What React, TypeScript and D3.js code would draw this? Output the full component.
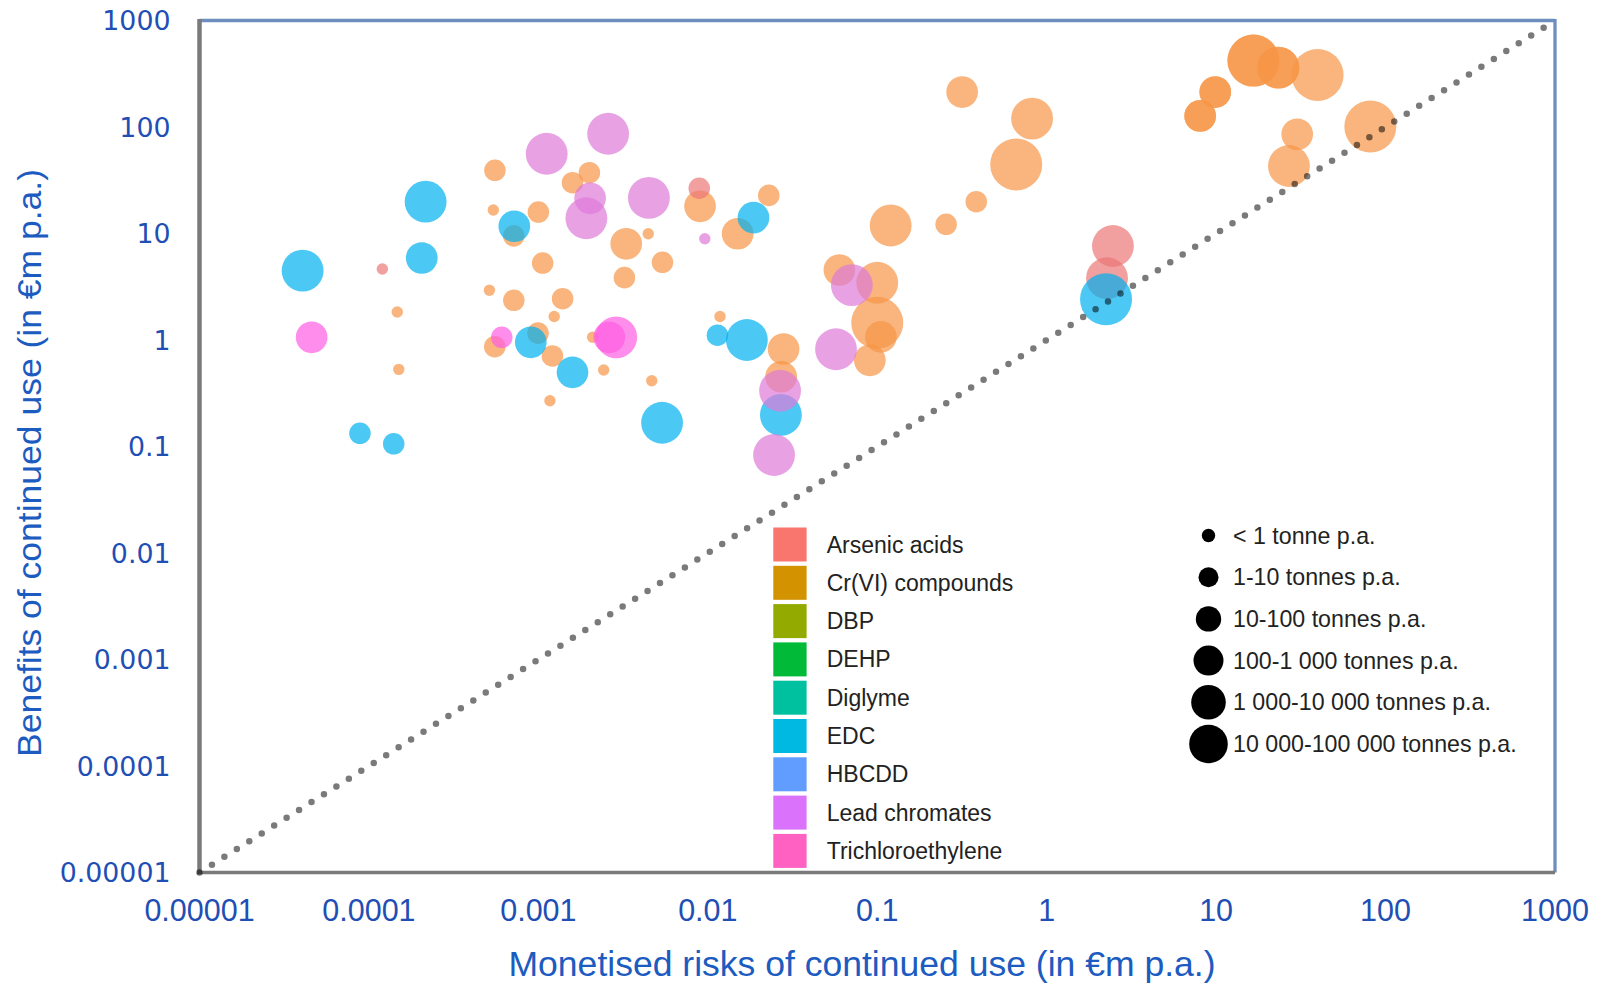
import * as d3 from "d3";

// [risk €m p.a., benefit €m p.a., tonnage band index]
const crVICompounds = [
  [1.47e-4, 1.83, 0], [1.5e-4, 0.53, 0], [5.54e-4, 39.2, 1], [5.42e-4, 16.6, 0],
  [7.16e-4, 9.5, 1], [1.0e-3, 15.9, 1], [2.0e-3, 37.2, 1], [1.59e-3, 30.0, 1],
  [3.3e-3, 8.0, 2], [4.45e-3, 9.95, 0], [5.4e-3, 5.37, 1], [3.22e-3, 3.85, 1],
  [1.06e-3, 5.28, 1], [5.14e-4, 2.93, 0], [7.16e-4, 2.36, 1], [1.39e-3, 2.44, 1],
  [1.24e-3, 1.66, 0], [5.53e-4, 0.865, 1], [9.95e-4, 1.16, 1], [1.21e-3, 0.708, 1],
  [2.09e-3, 1.06, 0], [2.43e-3, 0.523, 0], [4.67e-3, 0.415, 0], [1.17e-3, 0.269, 0],
  [9.0e-3, 18.0, 2], [0.0229, 22.8, 1], [0.015, 9.95, 2], [0.0118, 1.66, 0],
  [0.028, 0.823, 2], [0.0271, 0.452, 2], [0.0598, 4.54, 2], [0.1, 3.45, 3],
  [0.1, 1.45, 4], [0.105, 1.07, 2], [0.0904, 0.645, 2], [0.12, 11.9, 3],
  [0.255, 12.2, 1], [0.384, 19.9, 1], [0.317, 213, 2], [0.82, 120, 3],
  [0.661, 44.5, 4], [16.6, 420, 4], [16.6, 420, 4], [23.3, 361, 3], [23.3, 361, 3],
  [9.88, 213, 2], [9.88, 213, 2], [8.05, 127, 2], [8.05, 127, 2],
  [39.7, 308, 4], [30.1, 85.4, 2], [26.9, 43.0, 3], [81.3, 101, 4],
];

const arsenicAcids = [
  [1.2e-4, 4.64, 0], [8.9e-3, 26.6, 1], [2.46, 7.63, 3], [2.27, 3.8, 3],
];

const edc = [
  [4.06e-5, 4.48, 3], [2.16e-4, 19.9, 3], [2.05e-4, 5.89, 2], [8.85e-5, 0.133, 1],
  [1.4e-4, 0.106, 1], [7.21e-4, 11.7, 2], [9.02e-4, 0.951, 2], [1.59e-3, 0.497, 2],
  [5.37e-3, 0.167, 3], [0.0186, 14.1, 2], [0.0114, 1.11, 1], [0.017, 1.0, 3],
  [0.027, 0.198, 3], [2.24, 2.41, 4],
];

const leadChromates = [
  [1.12e-3, 56.1, 3], [2.58e-3, 86.5, 3], [2.02e-3, 21.4, 2], [1.92e-3, 13.9, 3],
  [4.49e-3, 21.6, 3], [9.6e-3, 8.94, 0], [0.0708, 3.28, 3], [0.0571, 0.818, 3],
  [0.0267, 0.334, 3], [0.0246, 0.0832, 3],
];

const trichloroethylene = [
  [4.59e-5, 1.06, 2], [6.08e-4, 1.06, 1], [2.88e-3, 1.06, 3], [2.62e-3, 1.06, 2],
];

const substances = [
  "Arsenic acids", "Cr(VI) compounds", "DBP", "DEHP", "Diglyme",
  "EDC", "HBCDD", "Lead chromates", "Trichloroethylene",
];
const substanceColors = [
  "#F8766D", "#D39200", "#93AA00", "#00BA38", "#00C19F",
  "#00B9E3", "#619CFF", "#DB72FB", "#FF61C3",
];

const tonnageBands = [
  "< 1 tonne p.a.", "1-10 tonnes p.a.", "10-100 tonnes p.a.",
  "100-1 000 tonnes p.a.", "1 000-10 000 tonnes p.a.", "10 000-100 000 tonnes p.a.",
];

const tickValues = [1e-5, 1e-4, 1e-3, 0.01, 0.1, 1, 10, 100, 1000];
const tickLabels = ["0.00001", "0.0001", "0.001", "0.01", "0.1", "1", "10", "100", "1000"];

// drawing order matters for the overlaps
const series = [
  { data: crVICompounds, fill: "#F79646" },
  { data: arsenicAcids, fill: "#EB7676" },
  { data: edc, fill: "#00B0F0" },
  { data: leadChromates, fill: "#DE7AD8" },
  { data: trichloroethylene, fill: "#FF5CE2" },
];

export default function App() {
  const W = 1604, H = 984;
  const left = 199.5, right = 1555, top = 20.5, bottom = 872.5;

  const x = d3.scaleLog().domain([1e-5, 1000]).range([left, right]);
  const y = d3.scaleLog().domain([1e-5, 1000]).range([bottom, top]);
  const r = d3.scaleLinear().domain([0, 4]).range([5.7, 26]);

  const diag = d3.line<number>().x(d => x(d)).y(d => y(d))([1e-5, 1000]);

  const blue = "#1f4fb4";
  const legendRadius = [6.7, 10, 12.7, 15, 17.3, 19.3];

  return (
    <div style={{ position: "fixed", left: 0, top: 0 }}>
      <svg width={W} height={H} style={{ display: "block", background: "#fff" }}>
        {/* frame */}
        <line x1={left} x2={right} y1={top} y2={top} stroke="#6F8EC0" strokeWidth={3.3} />
        <line x1={right} x2={right} y1={top - 1.6} y2={bottom} stroke="#6F8EC0" strokeWidth={3.3} />
        <line x1={left - 2} x2={right} y1={bottom} y2={bottom} stroke="#7a7a7a" strokeWidth={3.6} />
        <line x1={left} x2={left} y1={top - 1.6} y2={bottom + 1.8} stroke="#7a7a7a" strokeWidth={4.5} />

        {/* bubbles */}
        {series.map((s, i) => (
          <g key={i} fill={s.fill} fillOpacity={0.7}>
            {s.data.map((d, j) => (
              <circle key={j} cx={x(d[0])} cy={y(d[1])} r={r(d[2])} />
            ))}
          </g>
        ))}

        {/* break-even line */}
        <path d={diag ?? ""} fill="none" stroke="#000" strokeOpacity={0.52}
          strokeWidth={6.5} strokeLinecap="round" strokeDasharray="0 14.7" />

        {/* y tick labels */}
        <g fontFamily="DejaVu Sans" fontSize={26.8} fill={blue} textAnchor="end">
          {tickValues.map((v, i) => (
            <text key={i} x={170.5} y={y(v)} dominantBaseline="central">{tickLabels[i]}</text>
          ))}
        </g>
        {/* x tick labels */}
        <g fontFamily="Liberation Sans, Arial, sans-serif" fontSize={30.5} fill={blue} textAnchor="middle">
          {tickValues.map((v, i) => (
            <text key={i} x={x(v)} y={921}>{tickLabels[i]}</text>
          ))}
        </g>

        {/* axis titles */}
        <text x={862} y={976} textAnchor="middle" fontFamily="Liberation Sans, Arial, sans-serif"
          fontSize={35} fill="#1c5bc0" textLength={707} lengthAdjust="spacingAndGlyphs">
          Monetised risks of continued use (in €m p.a.)
        </text>
        <text transform="translate(41,463) rotate(-90)" textAnchor="middle"
          fontFamily="Liberation Sans, Arial, sans-serif" fontSize={34} fill="#1c5bc0"
          textLength={588} lengthAdjust="spacingAndGlyphs">
          Benefits of continued use (in €m p.a.)
        </text>

        {/* substance legend */}
        <g fontFamily="Liberation Sans, Arial, sans-serif" fontSize={23} fill="#222">
          {substances.map((name, i) => (
            <g key={name} transform={`translate(773.3, ${527.5 + i * 38.3})`}>
              <rect width={33.3} height={34} fill={substanceColors[i]} />
              <text x={53.4} y={17} dominantBaseline="central">{name}</text>
            </g>
          ))}
        </g>

        {/* tonnage legend */}
        <g fontFamily="Liberation Sans, Arial, sans-serif" fontSize={23.2} fill="#222">
          {tonnageBands.map((label, i) => (
            <g key={label} transform={`translate(0, ${535.5 + i * 41.7})`}>
              <circle cx={1208.5} cy={0} r={legendRadius[i]} fill="#000" />
              <text x={1233} y={0} dominantBaseline="central">{label}</text>
            </g>
          ))}
        </g>
      </svg>
    </div>
  );
}
